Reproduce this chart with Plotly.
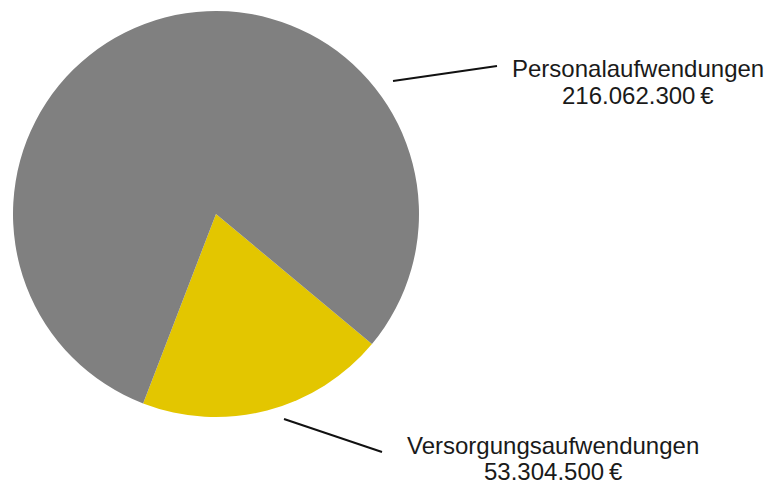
import plotly.graph_objects as go

W, H = 770, 483

categories = ["Versorgungsaufwendungen", "Personalaufwendungen"]
values = [53304500, 216062300]
colors = ["#E3C600", "#808080"]
value_labels = ["53.304.500\u2009€", "216.062.300\u2009€"]

def px(x):
    return x / W

def py(y):
    return 1 - y / H

fig = go.Figure()
fig.add_trace(go.Pie(
    labels=categories,
    values=values,
    sort=False,
    direction="clockwise",
    rotation=129.8,
    marker=dict(colors=colors, line=dict(width=0)),
    textinfo="none",
    hoverinfo="label+value",
    showlegend=False,
    domain=dict(x=[px(13), px(419)], y=[py(417), py(11)]),
))

font = dict(family="Liberation Sans, Arial, sans-serif", size=24, color="#1a1a1a")

# label positions (pixel centers) and leader lines
label_pos = {
    "Personalaufwendungen": (638, 69, 95),
    "Versorgungsaufwendungen": (553, 445, 471),
}
leaders = {
    "Personalaufwendungen": ((393, 81), (497, 66)),
    "Versorgungsaufwendungen": ((284, 419), (382, 452)),
}

annotations = []
shapes = []
for cat, vl in zip(categories, value_labels):
    cx, y1, y2 = label_pos[cat]
    annotations.append(dict(x=px(cx), y=py(y1), xref="paper", yref="paper",
                            text=cat, showarrow=False, xanchor="center",
                            yanchor="middle", font=font))
    annotations.append(dict(x=px(cx), y=py(y2), xref="paper", yref="paper",
                            text=vl, showarrow=False, xanchor="center",
                            yanchor="middle", font=font))
    (x0, y0), (x1, y1b) = leaders[cat]
    shapes.append(dict(type="line", xref="paper", yref="paper",
                       x0=px(x0), y0=py(y0), x1=px(x1), y1=py(y1b),
                       line=dict(color="#111111", width=2)))

fig.update_layout(
    width=W, height=H,
    margin=dict(l=0, r=0, t=0, b=0),
    paper_bgcolor="white",
    plot_bgcolor="white",
    annotations=annotations,
    shapes=shapes,
)

fig.write_html("out.html")
